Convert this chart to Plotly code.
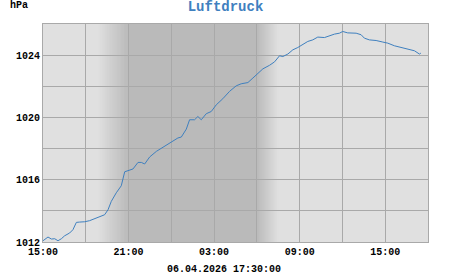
import pandas as pd
import plotly.graph_objects as go

# ---- data ----
start = "2026-04-05 15:00"
end = "2026-04-06 18:00"
hours = [0.00, 0.35, 0.59, 0.82, 1.05, 1.29, 1.52, 1.87, 2.10, 2.34, 2.57, 2.92, 3.27,
         3.62, 3.97, 4.32, 4.56, 4.79, 5.14, 5.49, 5.73, 5.96, 6.31, 6.66, 6.90, 7.13,
         7.48, 7.95, 8.41, 8.76, 9.11, 9.46, 9.70, 10.05, 10.28, 10.63, 10.86, 11.10,
         11.45, 11.80, 12.15, 12.61, 13.08, 13.55, 13.90, 14.37, 14.72, 15.07, 15.42,
         15.89, 16.24, 16.59, 16.82, 17.17, 17.52, 17.87, 18.22, 18.57, 18.92, 19.27,
         19.74, 20.09, 20.44, 20.79, 21.02, 21.37, 21.96, 22.31, 22.54, 22.89, 23.36,
         23.83, 24.18, 24.65, 25.12, 25.58, 26.05, 26.40, 26.50]
pressure = [1012.08, 1012.32, 1012.19, 1012.21, 1012.08, 1012.21, 1012.40, 1012.58,
            1012.79, 1013.26, 1013.28, 1013.30, 1013.37, 1013.48, 1013.64, 1013.75,
            1014.07, 1014.61, 1015.16, 1015.61, 1016.51, 1016.60, 1016.69, 1017.11,
            1017.11, 1017.01, 1017.46, 1017.82, 1018.07, 1018.31, 1018.46, 1018.68,
            1018.74, 1019.25, 1019.85, 1019.85, 1020.06, 1019.85, 1020.24, 1020.38,
            1020.81, 1021.20, 1021.67, 1022.03, 1022.16, 1022.24, 1022.53, 1022.80,
            1023.12, 1023.35, 1023.57, 1023.96, 1023.91, 1024.07, 1024.34, 1024.49,
            1024.66, 1024.88, 1024.98, 1025.16, 1025.13, 1025.26, 1025.35, 1025.41,
            1025.52, 1025.43, 1025.41, 1025.31, 1025.09, 1024.98, 1024.94, 1024.84,
            1024.77, 1024.60, 1024.49, 1024.39, 1024.28, 1024.07, 1024.13]
x_tick_labels = ["15:00", "", "21:00", "", "03:00", "", "09:00", "", "15:00", ""]
y_tick_vals = [1012, 1014, 1016, 1018, 1020, 1022, 1024, 1026]
y_tick_labels = ["1012", "", "1016", "", "1020", "", "1024", ""]
night_start = "2026-04-05 21:00"
night_end = "2026-04-06 06:00"
dusk_start = "2026-04-05 18:50"
dawn_end = "2026-04-06 07:30"
title = "Luftdruck"
unit = "hPa"
stamp = "06.04.2026 17:30:00"

# ---- styling ----
LIGHT = (224, 224, 224)
DARK = (186, 186, 186)
GRID = "#a9a9a9"
LINE = "#3f80bf"
FONT = "Liberation Mono"

t0 = pd.Timestamp(start)
times = [t0 + pd.Timedelta(hours=h) for h in hours]
x_tick_vals = [t0 + pd.Timedelta(hours=3 * i) for i in range(len(x_tick_labels))]

fig = go.Figure()
fig.add_trace(go.Scatter(x=times, y=pressure, mode="lines",
                         line=dict(color=LINE, width=1), hoverinfo="skip"))


def mix(f):
    c = [round(LIGHT[i] + (DARK[i] - LIGHT[i]) * f) for i in range(3)]
    return "rgb(%d,%d,%d)" % tuple(c)


shapes = []
N = 30
ds, ns = pd.Timestamp(dusk_start), pd.Timestamp(night_start)
ne, de = pd.Timestamp(night_end), pd.Timestamp(dawn_end)
# dusk gradient: nested rects ending at night start, light first
for i in range(N):
    a = ds + (ns - ds) * i / N
    shapes.append(dict(type="rect", xref="x", yref="paper", x0=a, x1=ns, y0=0, y1=1,
                       fillcolor=mix((i + 0.5) / N), line=dict(width=0), layer="below"))
# dawn gradient: nested rects starting at night end, widest (lightest) first
for i in reversed(range(N)):
    b = ne + (de - ne) * (i + 1) / N
    shapes.append(dict(type="rect", xref="x", yref="paper", x0=ne, x1=b, y0=0, y1=1,
                       fillcolor=mix(1 - (i + 0.5) / N), line=dict(width=0), layer="below"))
# flat night region
shapes.append(dict(type="rect", xref="x", yref="paper", x0=night_start, x1=night_end,
                   y0=0, y1=1, fillcolor=mix(1), line=dict(width=0), layer="below"))

fig.update_layout(
    width=451, height=275,
    margin=dict(l=43, r=23, t=24, b=33),
    paper_bgcolor="white",
    plot_bgcolor="rgb(224,224,224)",
    showlegend=False,
    shapes=shapes,
    title=dict(text=title, x=0.5, xref="container", xanchor="center", y=0.978,
               yanchor="middle",
               font=dict(family=FONT, size=14, color=LINE, weight="bold")),
    annotations=[
        dict(text=unit, xref="paper", yref="paper", x=-0.062, y=1.085, showarrow=False,
             xanchor="center", yanchor="middle",
             font=dict(family=FONT, size=10, color="black", weight="bold")),
        dict(text=stamp, xref="paper", yref="paper", x=0.4714, y=-0.125, showarrow=False,
             xanchor="center", yanchor="middle",
             font=dict(family=FONT, size=10, color="black", weight="bold")),
    ],
    xaxis=dict(type="date", range=[start, end], tickmode="array", tickvals=x_tick_vals,
               ticktext=x_tick_labels, showgrid=True, gridcolor=GRID, gridwidth=1,
               showline=True, linecolor=GRID, linewidth=1, mirror=True, ticks="",
               zeroline=False,
               tickfont=dict(family=FONT, size=10, color="black", weight="bold")),
    yaxis=dict(range=[1012, 1026], tickmode="array", tickvals=y_tick_vals,
               ticktext=y_tick_labels, showgrid=True, gridcolor=GRID, gridwidth=1,
               showline=True, linecolor=GRID, linewidth=1, mirror=True, ticks="",
               zeroline=False,
               tickfont=dict(family=FONT, size=10, color="black", weight="bold")),
)

fig.write_html("out.html")
